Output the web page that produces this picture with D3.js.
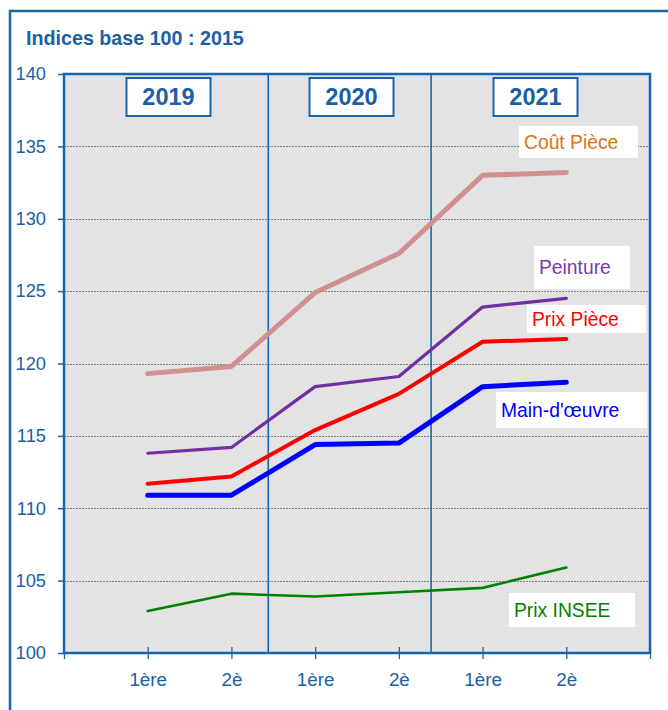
<!DOCTYPE html>
<html>
<head>
<meta charset="utf-8">
<script src="https://cdn.jsdelivr.net/npm/d3@7"></script>
<style>
  body { margin: 0; background: #fff; }
  svg { display: block; font-family: "Liberation Sans", Arial, sans-serif; }
</style>
</head>
<body>
<div id="chart"></div>
<script>
// data
const periods = ["1ère", "2è", "1ère", "2è", "1ère", "2è"];
const years = ["2019", "2020", "2021"];
const seriesNames = ["Coût Pièce", "Peinture", "Prix Pièce", "Main-d'œuvre", "Prix INSEE"];
const coutPiece = [119.3, 119.8, 124.9, 127.6, 133.0, 133.2];
const peinture = [113.8, 114.2, 118.4, 119.1, 123.9, 124.5];
const prixPiece = [111.7, 112.2, 115.4, 117.9, 121.5, 121.7];
const mainOeuvre = [110.9, 110.9, 114.4, 114.5, 118.4, 118.7];
const prixInsee = [102.9, 104.1, 103.9, 104.2, 104.5, 105.9];
const yTicks = [100, 105, 110, 115, 120, 125, 130, 135, 140];

const width = 668, height = 710;
const margin = {top: 74, right: 18, bottom: 57, left: 64};
const blue = "#1a64ad";
const textBlue = "#1b5fa6";

const series = [
  {name: seriesNames[0], values: coutPiece, color: "#d09090", stroke: 5, label: "#d9730f", box: [519, 126, 119, 32]},
  {name: seriesNames[1], values: peinture, color: "#7030a0", stroke: 3.2, label: "#7a3aa8", box: [534, 246, 96, 43]},
  {name: seriesNames[2], values: prixPiece, color: "#ff0000", stroke: 4, label: "#ff0000", box: [527, 305, 119, 28]},
  {name: seriesNames[3], values: mainOeuvre, color: "#0000ff", stroke: 5, label: "#0000ff", box: [496, 392, 151, 36]},
  {name: seriesNames[4], values: prixInsee, color: "#008000", stroke: 2.6, label: "#008000", box: [509, 593, 126, 34]}
];

const svg = d3.select("#chart").append("svg")
  .attr("width", width)
  .attr("height", height);

const x = d3.scaleLinear().domain([0, 7]).range([margin.left, width - margin.right]);
const y = d3.scaleLinear().domain([100, 140]).range([height - margin.bottom, margin.top]);

// outer frame (runs off the page right and bottom)
svg.append("path")
  .attr("d", `M10,${height} V11 H${width}`)
  .attr("fill", "none")
  .attr("stroke", blue)
  .attr("stroke-width", 2.5);

svg.append("text")
  .attr("x", 26)
  .attr("y", 45)
  .attr("fill", textBlue)
  .attr("font-size", 19.7)
  .attr("font-weight", "bold")
  .text("Indices base 100 : 2015");

// plot background
svg.append("rect")
  .attr("x", x(0))
  .attr("y", y(140))
  .attr("width", x(7) - x(0))
  .attr("height", y(100) - y(140))
  .attr("fill", "#e3e3e3");

svg.append("g")
  .selectAll("line")
  .data(yTicks.filter((d) => d > 100 && d < 140))
  .join("line")
  .attr("x1", x(0))
  .attr("x2", x(7))
  .attr("y1", (d) => Math.round(y(d)) + 0.5)
  .attr("y2", (d) => Math.round(y(d)) + 0.5)
  .attr("stroke", "#666")
  .attr("stroke-width", 0.8)
  .attr("stroke-dasharray", "2,1");

// year separators
svg.append("g")
  .selectAll("line")
  .data([2.44, 4.385])
  .join("line")
  .attr("x1", (d) => x(d))
  .attr("x2", (d) => x(d))
  .attr("y1", y(140))
  .attr("y2", y(100))
  .attr("stroke", blue)
  .attr("stroke-width", 1.6);

// series lines
const line = d3.line()
  .x((d, i) => x(i + 1))
  .y((d) => y(d));

svg.append("g")
  .selectAll("path")
  .data(series)
  .join("path")
  .attr("d", (d) => line(d.values))
  .attr("fill", "none")
  .attr("stroke", (d) => d.color)
  .attr("stroke-width", (d) => d.stroke)
  .attr("stroke-linejoin", "round")
  .attr("stroke-linecap", "round");

// series labels in white boxes
const labels = svg.append("g")
  .selectAll("g")
  .data(series)
  .join("g");

labels.append("rect")
  .attr("x", (d) => d.box[0])
  .attr("y", (d) => d.box[1])
  .attr("width", (d) => d.box[2])
  .attr("height", (d) => d.box[3])
  .attr("fill", "#fff");

labels.append("text")
  .attr("x", (d) => d.box[0] + 5)
  .attr("y", (d) => d.box[1] + d.box[3] / 2)
  .attr("dy", "0.36em")
  .attr("fill", (d) => d.label)
  .attr("font-size", 19.3)
  .text((d) => d.name);

// year boxes
const yearCenters = [168.5, 351.5, 535.5];
const yearBox = svg.append("g")
  .selectAll("g")
  .data(years)
  .join("g")
  .attr("transform", (d, i) => `translate(${yearCenters[i]},97)`);

yearBox.append("rect")
  .attr("x", -42)
  .attr("y", -19)
  .attr("width", 84)
  .attr("height", 38)
  .attr("fill", "#fff")
  .attr("stroke", blue)
  .attr("stroke-width", 2);

yearBox.append("text")
  .attr("text-anchor", "middle")
  .attr("dy", "0.36em")
  .attr("fill", textBlue)
  .attr("font-size", 23.5)
  .attr("font-weight", "bold")
  .text((d) => d);

// plot frame
svg.append("rect")
  .attr("x", x(0))
  .attr("y", y(140))
  .attr("width", x(7) - x(0))
  .attr("height", y(100) - y(140))
  .attr("fill", "none")
  .attr("stroke", blue)
  .attr("stroke-width", 2.5);

// y axis
const yAxis = svg.append("g")
  .attr("transform", `translate(${x(0)},0)`)
  .call(d3.axisLeft(y).tickValues(yTicks).tickSize(6).tickPadding(12));
yAxis.select(".domain").remove();
yAxis.selectAll(".tick line").attr("stroke", blue).attr("stroke-width", 1.5);
yAxis.selectAll(".tick text")
  .attr("fill", textBlue)
  .attr("font-size", 18.3)
  .attr("font-family", "Liberation Sans, Arial, sans-serif");

// x axis
const xAxis = svg.append("g")
  .attr("transform", `translate(0,${y(100)})`)
  .call(d3.axisBottom(x)
    .tickValues(d3.range(0, 8))
    .tickSize(6)
    .tickPadding(14)
    .tickFormat((d) => periods[d - 1] || ""));
xAxis.select(".domain").remove();
xAxis.selectAll(".tick line")
  .attr("y1", (d) => (d === 0 ? 0 : -6))
  .attr("stroke", blue)
  .attr("stroke-width", 1.3);
xAxis.selectAll(".tick text")
  .attr("fill", textBlue)
  .attr("font-size", 18.8)
  .attr("font-family", "Liberation Sans, Arial, sans-serif");
</script>
</body>
</html>
